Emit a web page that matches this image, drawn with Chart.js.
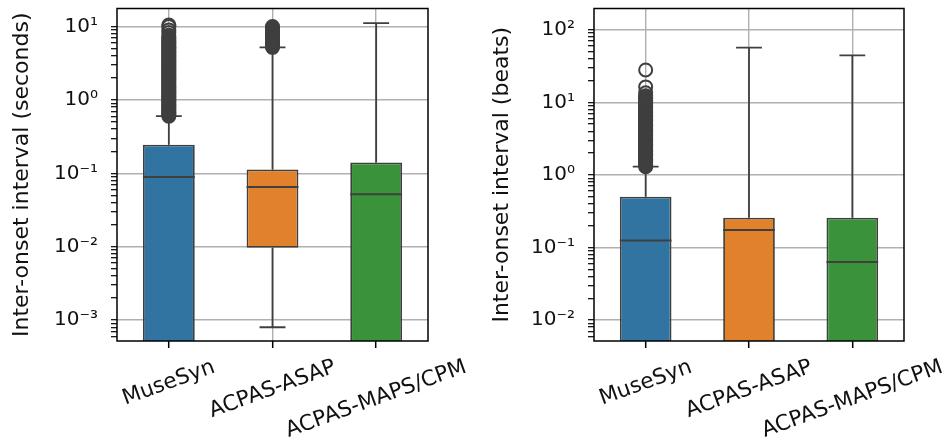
<!DOCTYPE html>
<html>
<head>
<meta charset="utf-8">
<script src="https://cdn.jsdelivr.net/npm/chart.js@4/dist/chart.umd.min.js"></script>
<style>
  body { margin: 0; background: #fff; }
  .wrap { display: flex; width: 948px; height: 446px; }
  .cell { position: relative; width: 474px; height: 446px; }
</style>
</head>
<body>
<div class="wrap">
  <div class="cell"><canvas id="seconds"></canvas></div>
  <div class="cell"><canvas id="beats"></canvas></div>
</div>
<script>
// categories and colours
const categories = ['MuseSyn', 'ACPAS-ASAP', 'ACPAS-MAPS/CPM'];
const boxColors = ['#3274a1', '#e1812c', '#3a923a'];

// inter-onset interval in seconds (box stats)
const secQ1 = [0.0001, 0.0097, 0.0001];
const secMedian = [0.089, 0.065, 0.052];
const secQ3 = [0.245, 0.113, 0.141];
const secLowWhisker = [null, 0.0008, null];
const secHighWhisker = [0.6, 5.2, 11.1];
const secOutliers = [
  [0.6, 0.62, 0.64, 0.66, 0.68, 0.7, 0.73, 0.76, 0.79, 0.82, 0.85, 0.88, 0.92, 0.96, 1.0, 1.04, 1.08, 1.12, 1.17,
   1.22, 1.27, 1.32, 1.37, 1.43, 1.49, 1.55, 1.61, 1.68, 1.75, 1.82, 1.9, 1.98, 2.06, 2.14, 2.23, 2.32, 2.42, 2.52,
   2.62, 2.73, 2.84, 2.96, 3.08, 3.2, 3.33, 3.47, 3.61, 3.76, 3.91, 4.07, 4.24, 4.41, 4.6, 4.8, 5.0, 5.2, 5.4, 5.6,
   5.85, 6.1, 6.35, 6.6, 6.9, 7.2, 7.6, 8.3, 9.0, 10.0, 10.5],
  [5.2, 5.4, 5.6, 5.85, 6.1, 6.35, 6.6, 6.9, 7.2, 7.5, 7.8, 8.1, 8.45, 8.8, 9.2, 9.6, 10.0],
  []
];

// inter-onset interval in beats
const beatQ1 = [0.0001, 0.001, 0.001];
const beatMedian = [0.125, 0.174, 0.063];
const beatQ3 = [0.50, 0.257, 0.257];
const beatLowWhisker = [null, null, null];
const beatHighWhisker = [1.3, 56.8, 44.2];
const beatOutliers = [
  [1.3, 1.35, 1.4, 1.46, 1.52, 1.58, 1.64, 1.71, 1.78, 1.85, 1.92, 2.0, 2.08, 2.16, 2.25, 2.34, 2.44, 2.54, 2.64,
   2.75, 2.86, 2.98, 3.1, 3.22, 3.35, 3.49, 3.63, 3.78, 3.93, 4.09, 4.25, 4.42, 4.6, 4.8, 5.0, 5.2, 5.4, 5.6, 5.85,
   6.1, 6.35, 6.6, 6.9, 7.2, 7.5, 7.8, 8.1, 8.45, 8.8, 9.2, 9.6, 10.0, 10.4, 10.8, 11.3, 11.8, 12.3, 13.5, 16.3, 27.9],
  [],
  []
];

const FONT = 'DejaVu Sans';
const EDGE = '#3f3f3f';
const SUP = {'0':'⁰','1':'¹','2':'²','3':'³','4':'⁴','5':'⁵','6':'⁶','7':'⁷','8':'⁸','9':'⁹','-':'⁻'};

function logTicks(min, max) {
  const ticks = [];
  for (let e = Math.floor(Math.log10(min)); e <= Math.ceil(Math.log10(max)); e++) {
    for (let m = 1; m <= 9; m++) {
      const v = m * Math.pow(10, e);
      if (v >= min && v <= max) ticks.push({ value: v, major: m === 1 });
    }
  }
  return ticks;
}

function powLabel(v) {
  const e = Math.round(Math.log10(v));
  if (Math.abs(v - Math.pow(10, e)) > 1e-9 * Math.pow(10, e)) return '';
  return '10' + String(e).split('').map(c => SUP[c]).join('');
}

// whiskers, caps, medians, frame and slanted x labels
const boxPlugin = {
  id: 'boxparts',
  afterDatasetsDraw(chart) {
    const st = chart.config.options.plugins.boxparts;
    const { ctx, chartArea: a, scales: { x, y } } = chart;
    const bars = chart.getDatasetMeta(0).data;
    ctx.save();
    ctx.beginPath();
    ctx.rect(a.left, a.top, a.right - a.left, a.bottom - a.top);
    ctx.clip();
    ctx.strokeStyle = EDGE;
    ctx.lineWidth = 1.8;
    categories.forEach((c, i) => {
      const cx = x.getPixelForValue(i);
      const half = bars[i].width / 2;
      const cap = half / 2;
      const seg = (x1, y1, x2, y2) => { ctx.beginPath(); ctx.moveTo(x1, y1); ctx.lineTo(x2, y2); ctx.stroke(); };
      // upper whisker + cap
      const yq3 = y.getPixelForValue(st.q3[i]);
      const yhi = y.getPixelForValue(st.high[i]);
      seg(cx, yq3, cx, yhi);
      seg(cx - cap, yhi, cx + cap, yhi);
      if (st.low[i] != null) {
        const yq1 = y.getPixelForValue(st.q1[i]);
        const ylo = y.getPixelForValue(st.low[i]);
        seg(cx, yq1, cx, ylo);
        seg(cx - cap, ylo, cx + cap, ylo);
      }
      const ym = y.getPixelForValue(st.median[i]);
      ctx.lineWidth = 2;
      seg(cx - half, ym, cx + half, ym);
      ctx.lineWidth = 1.8;
    });
    ctx.restore();
  },
  afterDraw(chart) {
    const { ctx, chartArea: a, scales: { x } } = chart;
    ctx.save();
    ctx.strokeStyle = '#000';
    ctx.lineWidth = 1.5;
    ctx.strokeRect(a.left, a.top, a.right - a.left, a.bottom - a.top);
    // x tick labels, rotated 20 degrees and centred on the tick like matplotlib
    const size = 21.5;
    const th = 20 * Math.PI / 180;
    ctx.font = size + 'px "' + FONT + '"';
    ctx.fillStyle = '#111';
    ctx.textAlign = 'center';
    ctx.textBaseline = 'middle';
    categories.forEach((c, i) => {
      const w = ctx.measureText(c).width;
      const h = size * 0.75;
      const bh = w * Math.sin(th) + h * Math.cos(th);
      const cx = x.getPixelForValue(i);
      const cy = a.bottom + 18 + bh / 2;
      ctx.save();
      ctx.translate(cx, cy);
      ctx.rotate(-th);
      ctx.fillText(c, 0, 0);
      ctx.restore();
    });
    ctx.restore();
  }
};

function makeChart(id, st, yTitle, yMin, yMax, axisWidth, padRight, titlePad) {
  const boxData = categories.map((c, i) => [st.q1[i], st.q3[i]]);
  const outData = [];
  categories.forEach((c, i) => st.out[i].forEach(v => outData.push({ x: c, y: v })));
  return new Chart(document.getElementById(id), {
    type: 'bar',
    data: {
      labels: categories,
      datasets: [
        {
          type: 'bar',
          data: boxData,
          backgroundColor: boxColors,
          borderColor: EDGE,
          borderWidth: 1.8,
          borderSkipped: false,
          barPercentage: 0.5,
          categoryPercentage: 1.0
        },
        {
          type: 'line',
          data: outData,
          showLine: false,
          pointRadius: 6.5,
          pointStyle: 'circle',
          pointBackgroundColor: 'rgba(0,0,0,0)',
          pointBorderColor: EDGE,
          pointBorderWidth: 2
        }
      ]
    },
    options: {
      responsive: true,
      maintainAspectRatio: false,
      animation: false,
      layout: { padding: { top: 5, right: padRight, left: 0, bottom: 0 } },
      plugins: {
        legend: { display: false },
        tooltip: { enabled: false },
        boxparts: st
      },
      scales: {
        x: {
          type: 'category',
          offset: true,
          grid: { offset: false, color: '#b0b0b0', lineWidth: 1.4, tickColor: '#000', tickLength: 7, tickWidth: 1.5 },
          border: { display: false },
          ticks: { display: false },
          afterFit: s => { s.height = 105; s.paddingLeft = 0; s.paddingRight = 0; }
        },
        y: {
          type: 'logarithmic',
          min: yMin,
          max: yMax,
          afterBuildTicks: s => { s.ticks = logTicks(yMin, yMax); },
          grid: {
            color: c => (c.tick && c.tick.major ? '#b0b0b0' : 'rgba(0,0,0,0)'),
            lineWidth: 1.4,
            tickColor: '#000',
            tickLength: 6,
            tickWidth: 1.2
          },
          border: { display: false },
          ticks: {
            autoSkip: false,
            padding: 13,
            color: '#111',
            font: { family: FONT, size: 20 },
            callback: v => powLabel(v)
          },
          title: {
            display: true,
            text: yTitle,
            color: '#111',
            font: { family: FONT, size: 22 },
            padding: { top: titlePad, bottom: 0 }
          },
          afterFit: s => { s.width = axisWidth; s.paddingTop = 0; s.paddingBottom = 0; }
        }
      }
    },
    plugins: [boxPlugin]
  });
}

makeChart('seconds',
  { q1: secQ1, median: secMedian, q3: secQ3, low: secLowWhisker, high: secHighWhisker, out: secOutliers },
  'Inter-onset interval (seconds)', 5.2e-4, 17.6, 117, 46, 9);

makeChart('beats',
  { q1: beatQ1, median: beatMedian, q3: beatQ3, low: beatLowWhisker, high: beatHighWhisker, out: beatOutliers },
  'Inter-onset interval (beats)', 0.00516, 196, 120, 44, 15);
</script>
</body>
</html>
